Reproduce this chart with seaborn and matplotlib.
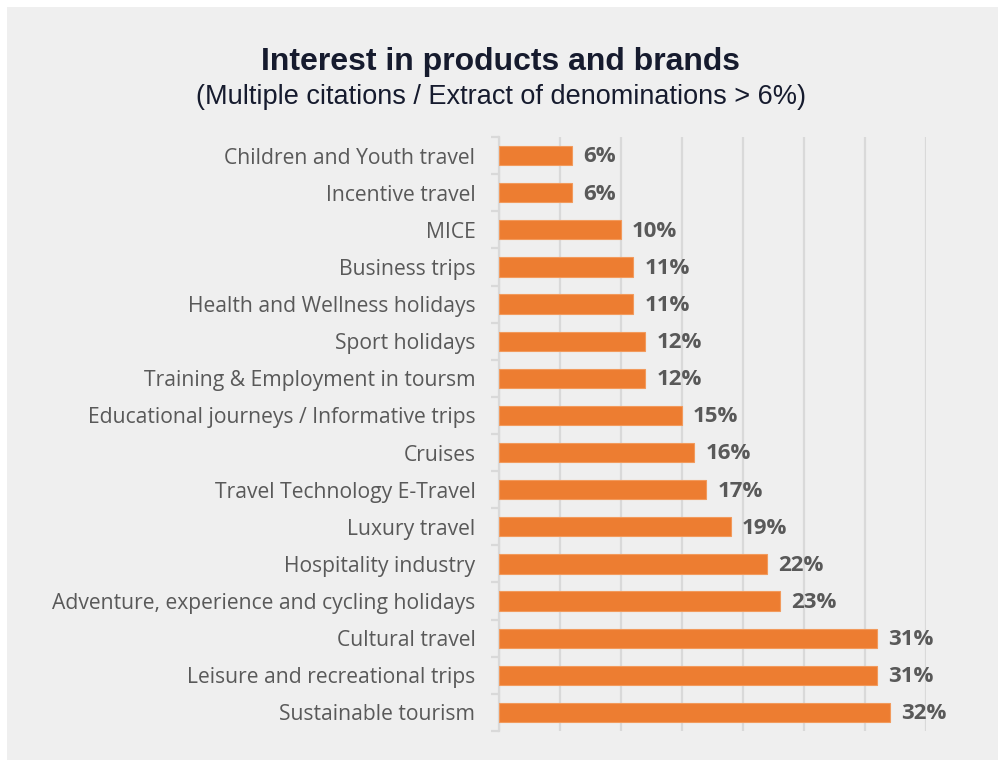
import matplotlib
matplotlib.use("Agg")
import matplotlib.pyplot as plt
from matplotlib.patches import Rectangle
from matplotlib.ticker import MultipleLocator, FixedLocator, NullFormatter
import seaborn as sns
import pandas as pd
import numpy as np

categories = [
    "Children and Youth travel",
    "Incentive travel",
    "MICE",
    "Business trips",
    "Health and Wellness holidays",
    "Sport holidays",
    "Training & Employment in toursm",
    "Educational journeys / Informative trips",
    "Cruises",
    "Travel Technology E-Travel",
    "Luxury travel",
    "Hospitality industry",
    "Adventure, experience and cycling holidays",
    "Cultural travel",
    "Leisure and recreational trips",
    "Sustainable tourism",
]
shares = [6, 6, 10, 11, 11, 12, 12, 15, 16, 17, 19, 22, 23, 31, 31, 32]

title = "Interest in products and brands"
subtitle = "(Multiple citations / Extract of denominations > 6%)"

BG = "#efefef"
ORANGE = "#ed7d31"
GRID = "#d9d9d9"
TEXT = "#595959"

sns.set_theme(style="white")
plt.rcParams["font.family"] = ["Open Sans", "DejaVu Sans"]

df = pd.DataFrame({"category": categories, "share": shares})

fig = plt.figure(figsize=(9.98, 7.6), dpi=100)
fig.patch.set_facecolor("white")
fig.patches.append(Rectangle((7 / 998, 0), 1 - 7 / 998, 1 - 7 / 760,
                             transform=fig.transFigure, facecolor=BG,
                             edgecolor="none", zorder=-10))

ax = fig.add_axes([0.5, 0.0382, 0.928 - 0.5, 0.8197 - 0.0382])
ax.set_facecolor(BG)
ax.patch.set_alpha(0)

sns.barplot(data=df, x="share", y="category", orient="h", color=ORANGE,
            saturation=1, width=0.52, ax=ax, zorder=3,
            edgecolor="#f29a5c", linewidth=0.8)

ax.set_xlim(0, 35)
ax.set_ylim(len(categories) - 0.5, -0.5)
ax.xaxis.set_major_locator(MultipleLocator(5))
ax.grid(axis="x", color=GRID, linewidth=1.6, zorder=0)
ax.grid(axis="y", visible=False)
ax.set_axisbelow(True)
ax.tick_params(axis="x", length=0, labelbottom=False)
ax.set_xlabel("")
ax.set_ylabel("")

for side in ["top", "right", "bottom"]:
    ax.spines[side].set_visible(False)
ax.spines["left"].set_color(GRID)
ax.spines["left"].set_linewidth(1.6)

ax.yaxis.set_minor_locator(FixedLocator(np.arange(-0.5, len(categories), 1.0)))
ax.yaxis.set_minor_formatter(NullFormatter())
ax.tick_params(axis="y", which="minor", length=6, width=1.6, color=GRID, left=True)
ax.tick_params(axis="y", which="major", length=0, pad=17, labelsize=15.2,
               labelcolor=TEXT)

for bar, v in zip(ax.patches, shares):
    y = bar.get_y() + bar.get_height() / 2
    ax.annotate(f"{v}%", (bar.get_width(), y), xytext=(8, -1),
                textcoords="offset points", ha="left", va="center",
                fontsize=16, fontweight="bold", color=TEXT)

fig.text(0.502, 1 - 62 / 760, title, ha="center", va="center",
         fontsize=23, fontweight="bold", color="#161b2e",
         family=["Liberation Sans", "DejaVu Sans"])
fig.text(0.502, 1 - 97 / 760, subtitle, ha="center", va="center",
         fontsize=19.5, color="#161b2e",
         family=["Liberation Sans", "DejaVu Sans"])

fig.savefig("out.png", dpi=100, facecolor="white")
